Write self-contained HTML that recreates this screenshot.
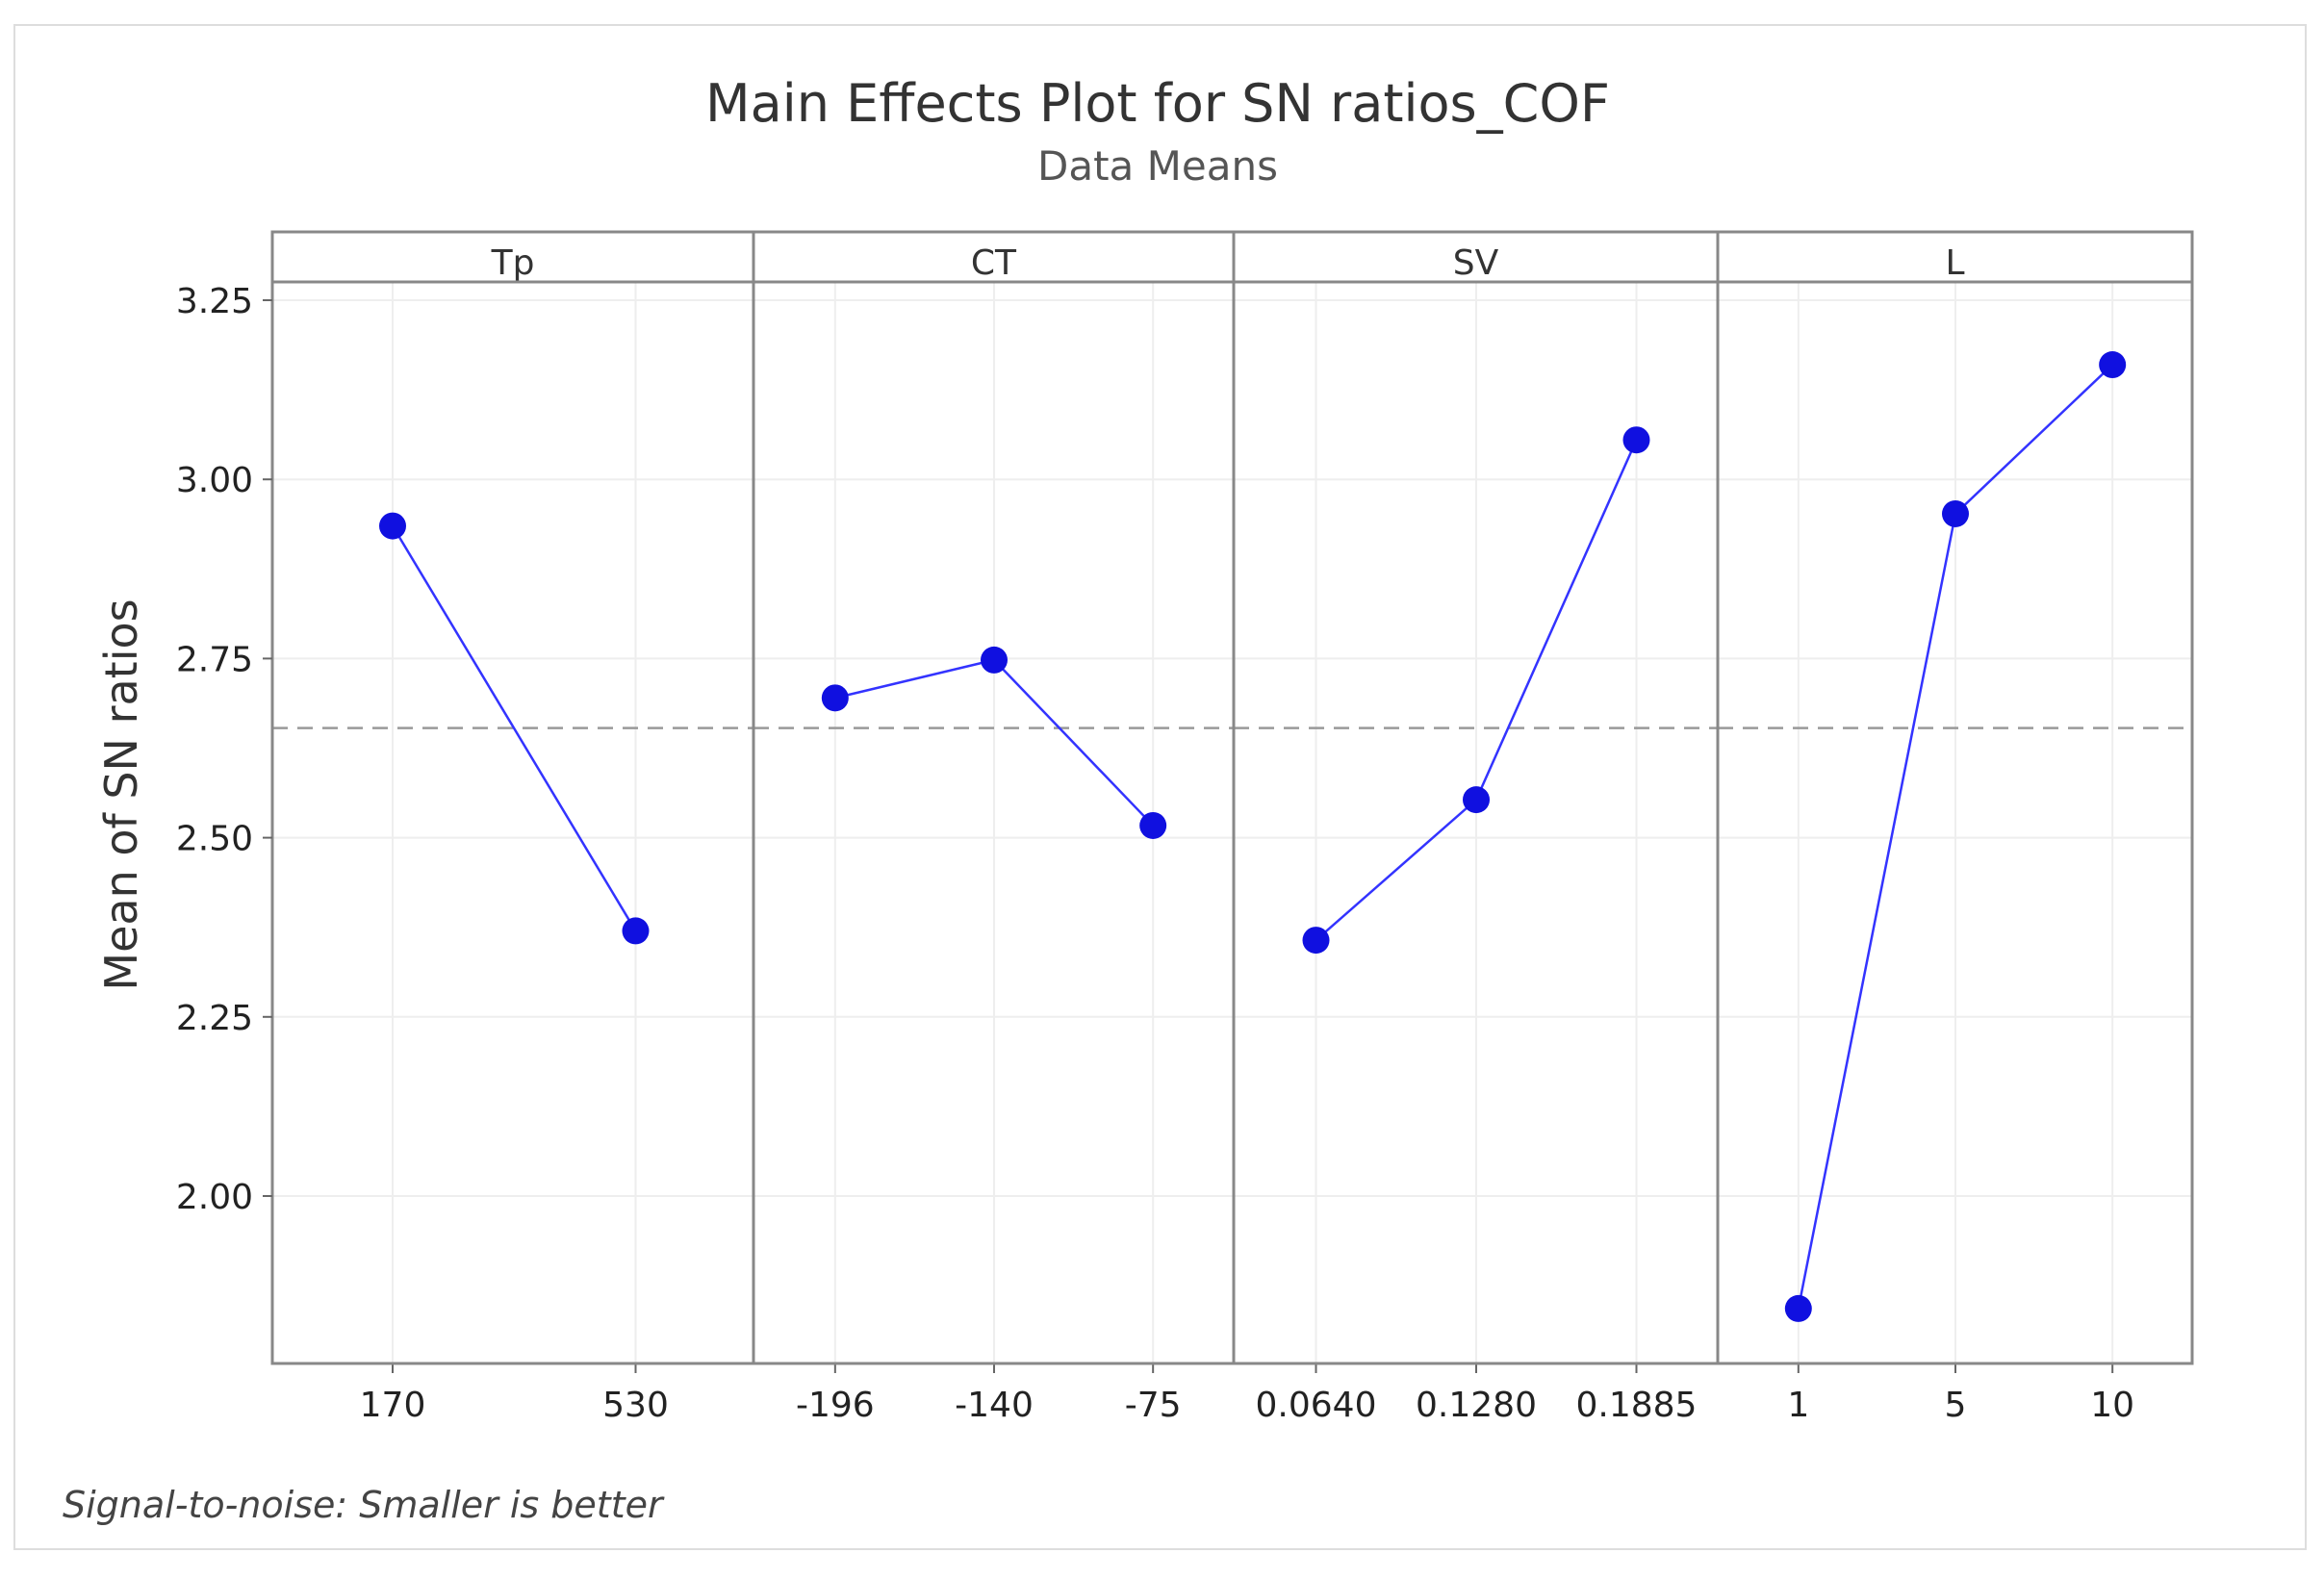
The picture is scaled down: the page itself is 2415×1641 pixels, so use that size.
<!DOCTYPE html>
<html><head><meta charset="utf-8"><style>
html,body{margin:0;padding:0;background:#fff;}
svg{display:block;font-family:"DejaVu Sans","Liberation Sans",sans-serif;}
</style></head><body>
<svg id="chart" width="2415" height="1641" viewBox="0 0 2415 1641">
<rect x="15" y="26" width="2381" height="1584" fill="#fff" stroke="#ddd" stroke-width="2"/>
<text x="1203" y="126" font-size="54" text-anchor="middle" fill="#333">Main Effects Plot for SN ratios_COF</text>
<text x="1203" y="187" font-size="42" text-anchor="middle" fill="#555">Data Means</text>
<text transform="translate(142,826) rotate(-90)" font-size="46" text-anchor="middle" fill="#333">Mean of SN ratios</text>
<text x="65" y="1577" font-size="38" font-style="italic" fill="#444">Signal-to-noise: Smaller is better</text>
<g id="plot"></g>
</svg>
<script>
const factors = ["Tp","CT","SV","L"];
const levels = [["170","530"],["-196","-140","-75"],["0.0640","0.1280","0.1885"],["1","5","10"]];
const tpVals = [2.935, 2.37];
const ctVals = [2.695, 2.748, 2.517];
const svVals = [2.357, 2.553, 3.055];
const lVals = [1.843, 2.952, 3.16];
const yTicks = [2.00, 2.25, 2.50, 2.75, 3.00, 3.25];
const meanValue = 2.653;

const series = [tpVals, ctVals, svVals, lVals];
const NS = "http://www.w3.org/2000/svg";
const g = document.getElementById("plot");
const panelEdges = [283, 783, 1282, 1785, 2278];
const plotTop = 241, stripBottom = 293, plotBottom = 1417;
const yScale = v => 312 + (3.25 - v) * 744.8;
function xScale(p, i, n) {
  const l = panelEdges[p], r = panelEdges[p+1], w = r - l;
  if (n === 2) return l + w * (0.25 + i * 0.505);
  return l + w * (0.17 + i * 0.331);
}
function mk(tag, attrs) { const e = document.createElementNS(NS, tag); for (const k in attrs) e.setAttribute(k, attrs[k]); g.appendChild(e); return e; }

for (let p = 0; p < factors.length; p++) {
  const l = panelEdges[p], r = panelEdges[p+1];
  yTicks.forEach(t => {
    const gl = mk("line", {x1:l, x2:r, y1:yScale(t), y2:yScale(t), stroke:"#eee", "stroke-width":2});
    
    
  });
  levels[p].forEach((lv, i) => {
    const x = xScale(p, i, levels[p].length);
    const vg = mk("line", {x1:x, x2:x, y1:stripBottom, y2:plotBottom, stroke:"#eee", "stroke-width":2});
    
    
    const tk = mk("line", {x1:x, x2:x, y1:plotBottom, y2:plotBottom+10, stroke:"#666", "stroke-width":2});
    
    
    const tl = mk("text", {x:x, y:1472, "font-size":36, "text-anchor":"middle", fill:"#222"});
    tl.textContent = lv;
    
    
  });
  const mean = mk("line", {x1:l, x2:r, y1:yScale(meanValue), y2:yScale(meanValue), stroke:"#999", "stroke-width":2.5, "stroke-dasharray":"16 10"});
  
  
  const pts = series[p].map((v, i) => xScale(p, i, series[p].length) + "," + yScale(v)).join(" ");
  const pl = mk("polyline", {points:pts, fill:"none", stroke:"#3333ff", "stroke-width":2.5});
  
  
  series[p].forEach((v, i) => {
    const c = mk("circle", {cx:xScale(p, i, series[p].length), cy:yScale(v), r:14, fill:"#1010e0"});
    
    
  });
  const st = mk("text", {x:(l+r)/2, y:plotTop+44, "font-size":36, "text-anchor":"middle", fill:"#333"});
  st.textContent = factors[p];
  
  
  const fr = mk("rect", {x:l, y:plotTop, width:r-l, height:plotBottom-plotTop, fill:"none", stroke:"#888", "stroke-width":3});
  
  
  const sl = mk("line", {x1:l, x2:r, y1:stripBottom, y2:stripBottom, stroke:"#888", "stroke-width":3});
  
  
}
yTicks.forEach(t => {
  const tk = mk("line", {x1:273, x2:283, y1:yScale(t), y2:yScale(t), stroke:"#666", "stroke-width":2});
  
  
  const tl = mk("text", {x:263, y:yScale(t)+13, "font-size":36, "text-anchor":"end", fill:"#222"});
  tl.textContent = t.toFixed(2);
  
  
});
</script>
</body></html>
